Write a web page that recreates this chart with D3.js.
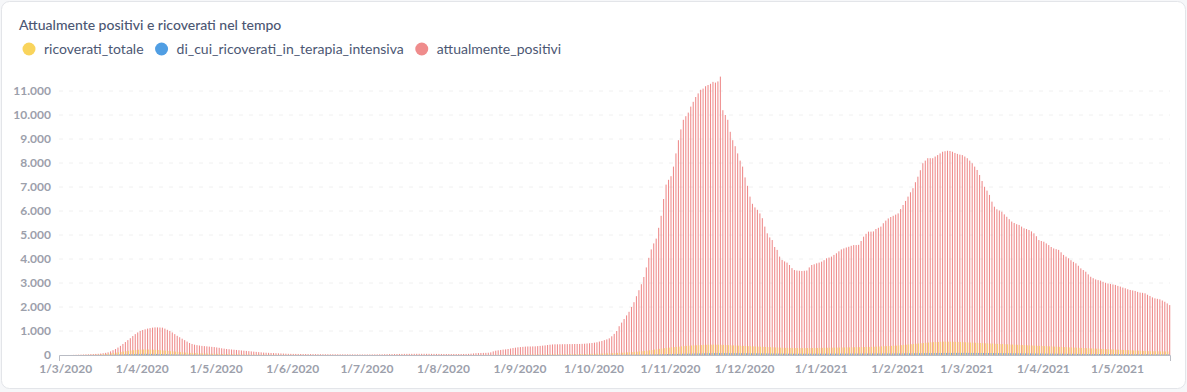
<!DOCTYPE html>
<html><head><meta charset="utf-8">
<script src="https://cdn.jsdelivr.net/npm/d3@7"></script>
<style>
html,body{margin:0;padding:0;background:#f6f7f9;}
svg{display:block;font-family:Lato,"Open Sans",sans-serif;}
</style></head>
<body><svg id="chart" width="1187" height="392"></svg>
<script>
// ---------------- DATA ----------------
const title = "Attualmente positivi e ricoverati nel tempo";
const seriesNames = ["ricoverati_totale", "di_cui_ricoverati_in_terapia_intensiva", "attualmente_positivi"];
const seriesColors = ["#F9D45C", "#509EE3", "#EF8C8C"];
const firstDay = "2020-02-28"; // one value per day from this date
const yTicks = [0,1000,2000,3000,4000,5000,6000,7000,8000,9000,10000,11000];
const xTickLabels = ["1/3/2020","1/4/2020","1/5/2020","1/6/2020","1/7/2020","1/8/2020","1/9/2020","1/10/2020","1/11/2020","1/12/2020","1/1/2021","1/2/2021","1/3/2021","1/4/2021","1/5/2021"];

const attualmente_positivi = [
 0,0,
 // Mar 2020
 0,1,2,5,8,12,15,20,25,30, 35,40,45,50,60,75,90,110,150,200, 250,310,380,460,540,620,700,790,870,940,1000,
 // Apr
 1040,1070,1100,1120,1140,1150,1150,1145,1140,1100, 1050,1000,940,870,800,740,680,620,560,500, 460,430,410,395,380,370,360,350,340,330,
 // May
 315,300,280,265,250,240,230,220,210,200, 190,180,170,160,150,140,130,120,110,100, 95,90,85,80,75,70,65,60,55,50,48,
 // Jun
 46,45,44,42,40,39,38,37,36,35, 34,33,32,31,30,30,29,28,28,27, 26,26,25,25,24,24,23,23,22,22,
 // Jul
 22,23,24,25,26,28,30,32,34,36, 38,40,42,44,45,46,47,48,48,49, 50,50,50,50,49,48,47,46,45,44,43,
 // Aug
 42,42,41,40,40,40,41,42,43,45, 48,55,65,75,80,85,88,90,95,110, 150,180,195,210,225,235,250,270,290,305,320,
 // Sep
 330,340,350,355,355,358,360,370,380,390, 400,415,430,440,445,445,448,450,450,452, 455,455,458,460,460,465,470,480,490,500,
 // Oct
 515,530,560,585,620,650,695,780,880,1000, 1200,1350,1500,1650,1800,2000,2200,2450,2700,2950, 3250,3650,4050,4400,4650,4850,5300,5800,6500,7100,7300,
 // Nov
 7450,7850,8400,8950,9400,9800,9950,10100,10350,10550, 10750,10900,11050,11100,11200,11250,11300,11380,11350,11400, 11600,10200,10000,9800,9300,8950,8700,8400,8100,7850,
 // Dec
 7400,7050,6600,6300,6150,6050,5900,5700,5350,5070, 4900,4790,4500,4380,4100,3960,3900,3850,3750,3620, 3540,3520,3510,3500,3510,3520,3650,3750,3780,3820,3850,
 // Jan 2021
 3890,3950,4030,4060,4100,4170,4240,4320,4400,4440, 4480,4510,4550,4580,4580,4590,4750,4930,5050,5140, 5140,5150,5250,5300,5350,5490,5600,5690,5750,5800,5850,
 // Feb
 5900,6080,6250,6420,6600,6780,6950,7200,7430,7700, 7990,8100,8200,8200,8200,8270,8330,8400,8470,8490, 8510,8500,8470,8420,8380,8350,8330,8270,
 // Mar
 8200,8100,7990,7850,7710,7500,7250,7010,6850,6670, 6390,6180,6070,6020,5970,5860,5760,5660,5560,5500, 5450,5420,5350,5280,5250,5210,5150,5070,4950,4790,4750,
 // Apr
 4720,4650,4580,4500,4440,4410,4380,4280,4170,4100, 4030,3950,3880,3820,3720,3610,3540,3470,3360,3260, 3200,3150,3120,3100,3050,3010,2980,2960,2940,2920,
 // May
 2880,2850,2810,2780,2740,2710,2690,2670,2630,2600, 2590,2570,2510,2460,2400,2360,2340,2320,2270,2220, 2150,2080
];

const ricoverati_totale = [
 0,0,
 0,0,0,1,2,3,4,5,6,8, 10,12,15,18,22,28,35,45,55,70, 85,100,115,130,145,160,175,190,200,210,220,
 225,230,230,228,225,220,215,210,200,190, 180,170,160,150,140,130,120,110,100,95, 90,85,80,75,70,66,62,58,55,52,
 50,48,45,43,40,38,36,34,32,30, 28,26,24,22,20,19,18,17,16,15, 14,13,12,12,11,11,10,10,10,9,9,
 9,9,8,8,8,7,7,7,6,6, 6,6,5,5,5,5,5,4,4,4, 4,4,4,4,3,3,3,3,3,3,
 3,3,3,3,3,3,3,4,4,4, 4,4,5,5,5,5,5,5,5,5, 5,5,5,5,5,5,5,5,5,5,5,
 5,5,5,5,5,5,5,5,5,5, 5,5,5,6,6,6,6,7,7,8, 8,9,9,10,10,11,12,13,14,15,16,
 17,18,18,19,20,20,21,22,23,24, 25,26,27,28,29,30,30,31,32,33, 34,35,36,37,38,40,42,44,46,48,
 50,52,55,58,60,64,68,72,76,80, 85,90,96,102,108,115,122,130,140,150, 160,170,182,195,210,225,240,255,270,285,300,
 310,320,330,340,350,360,370,380,390,395, 400,405,410,415,420,425,428,430,432,430, 428,425,420,415,410,405,400,395,390,385,
 380,375,370,365,360,355,350,345,340,335, 330,325,320,315,310,305,300,298,296,294, 292,290,290,288,288,288,290,290,292,292,294,
 296,298,300,302,304,306,308,310,312,314, 316,318,320,322,324,326,328,330,332,335, 338,340,345,350,355,360,365,370,375,380,385,
 390,400,410,420,430,440,450,460,470,480, 490,500,510,520,530,535,540,545,550,555, 555,555,552,550,548,545,540,535,
 530,525,520,515,510,505,500,495,490,485, 480,475,470,465,460,455,450,445,440,435, 430,425,420,415,410,405,400,395,390,385,380,
 375,370,365,360,355,350,345,340,335,330, 325,320,315,310,305,300,295,290,285,280, 275,270,265,260,255,250,245,240,235,230,
 225,220,215,210,205,200,195,190,185,180, 175,170,165,160,158,156,154,152,150,148, 146,144
];

const terapia_intensiva = [
 0,0,
 0,0,0,0,0,0,0,0,0,0, 1,2,3,4,5,6,8,10,12,15, 18,21,24,27,30,33,36,39,42,44,46,
 47,48,48,47,46,45,44,42,40,38, 36,34,32,30,28,26,24,22,20,19, 18,17,16,15,14,13,12,11,10,10,
 9,9,8,8,7,7,6,6,5,5, 5,4,4,4,3,3,3,3,2,2, 2,2,2,1,1,1,1,1,1,1,1,
 1,1,1,1,1,1,1,1,1,1, 1,1,1,1,1,1,1,1,1,1, 1,1,1,1,1,1,1,1,1,1,
 1,1,1,1,0,0,0,0,0,0, 0,0,0,0,0,0,0,0,0,0, 1,1,1,1,1,1,1,1,1,1,1,
 1,1,1,1,1,1,1,1,1,1, 1,1,1,1,1,1,1,1,1,2, 2,2,2,2,2,2,2,2,2,2,2,
 2,2,2,2,3,3,3,3,3,3, 3,3,3,4,4,4,4,4,4,4, 4,5,5,5,5,5,5,6,6,6,
 6,6,7,7,7,8,8,9,9,10, 10,11,12,13,14,15,16,17,18,19, 20,21,22,24,26,28,30,32,34,36,40,
 42,44,46,48,50,52,54,56,58,60, 62,64,66,68,70,72,74,76,78,80, 79,78,77,76,76,75,75,74,74,73,
 72,72,71,70,70,69,68,67,66,65, 64,63,62,61,60,59,58,57,56,56, 55,55,55,55,55,55,55,55,56,56,56,
 56,56,57,57,57,58,58,58,59,59, 59,60,60,60,61,61,61,62,62,62, 63,63,63,64,64,64,65,65,65,65,65,
 66,67,68,69,70,71,72,73,74,75, 76,77,78,79,80,81,82,83,84,85, 85,86,86,87,87,88,88,88,
 88,87,87,86,86,85,85,84,83,82, 81,80,79,78,77,76,75,74,73,72, 71,70,69,68,67,66,65,64,63,62,61,
 60,59,58,57,57,56,55,54,53,52, 51,50,50,49,48,47,46,45,44,44, 43,43,42,42,41,41,40,40,40,40,
 39,39,38,38,37,37,36,36,35,35, 34,34,33,33,32,32,31,31,30,30, 30,30
];

// ---------------- LAYOUT ----------------
const W = 1187, H = 392;
const plot = {left: 59, right: 1170, top: 91, bottom: 355};
const svg = d3.select("#chart");

// card
svg.append("rect").attr("x", 1.5).attr("y", 1.5).attr("width", W - 3).attr("height", H - 5)
  .attr("rx", 8).attr("fill", "#fff").attr("stroke", "#e3e5e9");

svg.append("text").attr("x", 19).attr("y", 30).text(title)
  .attr("font-size", 14).attr("fill", "#4c5773").attr("font-weight", 500);

// legend
let lx = 23;
seriesNames.forEach((name, i) => {
  const g = svg.append("g");
  g.append("circle").attr("cx", lx + 6).attr("cy", 49).attr("r", 6.5).attr("fill", seriesColors[i]);
  const t = g.append("text").attr("x", lx + 21).attr("y", 54).text(name)
    .attr("font-size", 14).attr("fill", "#4c5773");
  lx += 21 + t.node().getComputedTextLength() + 12;
});

// scales
const start = d3.utcParse("%Y-%m-%d")(firstDay);
const n = attualmente_positivi.length;
const days = d3.range(n).map(i => d3.utcDay.offset(start, i));
const x = d3.scaleUtc()
  .domain([d3.utcHour.offset(days[0], -12), d3.utcHour.offset(days[n - 1], 12)])
  .range([plot.left, plot.right]);
const y = d3.scaleLinear().domain([0, 11000]).range([plot.bottom, plot.top]);

// grid
svg.append("g").selectAll("line").data(yTicks.filter(d => d > 0)).join("line")
  .attr("x1", plot.left).attr("x2", plot.right)
  .attr("y1", d => y(d)).attr("y2", d => y(d))
  .attr("stroke", "#f0f0f0").attr("stroke-dasharray", "4,6");

// y axis labels
const fmt = d3.formatLocale({decimal: ",", thousands: ".", grouping: [3], currency: ["", "€"]}).format(",.0f");
const yAxis = d3.axisLeft(y).tickValues(yTicks).tickFormat(fmt).tickSize(0).tickPadding(8);
const yg = svg.append("g").attr("transform", `translate(${plot.left},0)`).call(yAxis);
yg.select(".domain").remove();
yg.selectAll("text").attr("font-size", 12).attr("font-weight", 700).attr("fill", "#9ca0ab")
  .attr("font-family", "Lato");

// bars (grouped): draw red first, then yellow and blue on top
const bw = x(d3.utcDay.offset(start, 1)) - x(start);
const sub = d3.scaleBand().domain(seriesNames).range([-bw * 0.5, bw * 0.5]).paddingInner(0);
const seriesData = [ricoverati_totale, terapia_intensiva, attualmente_positivi];
const barsG = svg.append("g");
[2, 0, 1].forEach(si => {
  const name = seriesNames[si];
  const wMul = si === 2 ? 1.3 : 1;
  barsG.append("g").attr("fill", seriesColors[si])
    .selectAll("rect").data(seriesData[si]).join("rect")
    .attr("x", (d, i) => x(days[i]) + sub(name))
    .attr("width", sub.bandwidth() * wMul)
    .attr("y", d => y(d))
    .attr("height", d => y(0) - y(d));
});

// x axis
const parseLbl = d3.utcParse("%d/%m/%Y");
const xTicks = xTickLabels.map(s => parseLbl(s));
const xAxis = d3.axisBottom(x).tickValues(xTicks).tickFormat((d, i) => xTickLabels[i])
  .tickSizeInner(0).tickSizeOuter(6).tickPadding(9);
const xg = svg.append("g").attr("transform", `translate(0,${plot.bottom})`).call(xAxis);
xg.select(".domain").attr("stroke", "#b9bcc4");
xg.selectAll("text").attr("font-size", 12).attr("font-weight", 700).attr("fill", "#9ca0ab")
  .attr("font-family", "Lato");
</script></body></html>
